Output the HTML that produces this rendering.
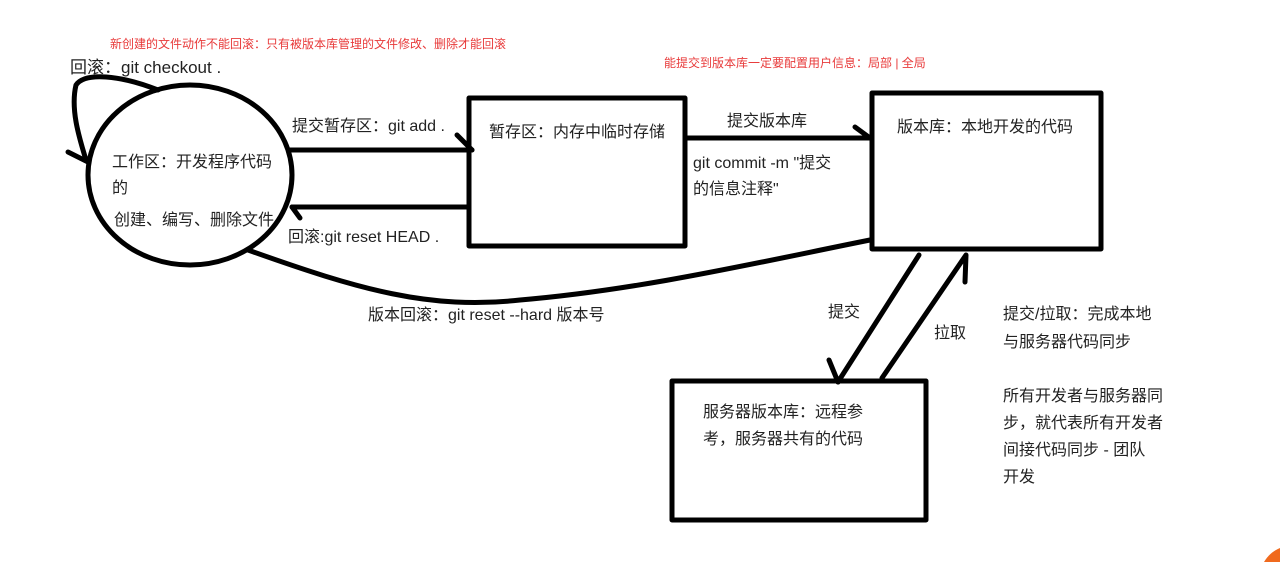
<!DOCTYPE html>
<html><head><meta charset="utf-8"><style>
body{margin:0;background:#fff;}
svg{display:block;}
text{font-family:"Liberation Sans","Noto Sans CJK SC",sans-serif;fill:#222;}
</style></head><body>
<svg width="1280" height="562" viewBox="0 0 1280 562" xmlns="http://www.w3.org/2000/svg">
<g fill="none" stroke="#000" stroke-width="5" stroke-linecap="round" stroke-linejoin="round">
<ellipse cx="190" cy="175" rx="102" ry="90"/>
<rect x="469" y="98" width="216" height="148"/>
<rect x="872" y="93" width="229" height="156"/>
<rect x="672" y="381" width="254" height="139"/>
<path d="M158 90 C 120 75, 85 72, 76 85 C 70 110, 80 140, 86 160"/>
<path d="M68 152 L 88 162"/>
<path d="M290 150 L 472 150"/>
<path d="M457 135 L 472 150"/>
<path d="M468 207 L 292 207"/>
<path d="M292 207 L 300 218"/>
<path d="M686 138 L 870 138"/>
<path d="M855 127 L 870 138"/>
<path d="M248 250 C 360 290, 430 310, 520 300 C 640 290, 760 262, 870 240"/>
<path d="M919 255 L 838 382"/>
<path d="M829 360 L 838 382"/>
<path d="M882 378 L 966 255 L 965 282"/>
</g>
<path d="M1264 562 Q 1270 552 1280 548 L 1280 562 Z" fill="#f06a1e"/>
<text x="110" y="48" font-size="12" style="fill:#e83a3a">新创建的文件动作不能回滚：只有被版本库管理的文件修改、删除才能回滚</text>
<text x="664" y="67" font-size="12" style="fill:#e83a3a">能提交到版本库一定要配置用户信息：局部 | 全局</text>
<text x="70" y="73" font-size="17">回滚：git checkout .</text>
<text x="112" y="167" font-size="16">工作区：开发程序代码</text>
<text x="112" y="193" font-size="16">的</text>
<text x="114" y="225" font-size="16">创建、编写、删除文件</text>
<text x="292" y="131" font-size="16">提交暂存区：git add .</text>
<text x="288" y="242" font-size="16">回滚:git reset HEAD .</text>
<text x="489" y="137" font-size="16">暂存区：内存中临时存储</text>
<text x="727" y="126" font-size="16">提交版本库</text>
<text x="693" y="168" font-size="16">git commit -m "提交</text>
<text x="693" y="194" font-size="16">的信息注释"</text>
<text x="897" y="132" font-size="16">版本库：本地开发的代码</text>
<text x="368" y="320" font-size="16">版本回滚：git reset --hard 版本号</text>
<text x="828" y="317" font-size="16">提交</text>
<text x="934" y="338" font-size="16">拉取</text>
<text x="1003" y="319" font-size="16">提交/拉取：完成本地</text>
<text x="1003" y="347" font-size="16">与服务器代码同步</text>
<text x="1003" y="401" font-size="16">所有开发者与服务器同</text>
<text x="1003" y="428" font-size="16">步，就代表所有开发者</text>
<text x="1003" y="455" font-size="16">间接代码同步 - 团队</text>
<text x="1003" y="482" font-size="16">开发</text>
<text x="703" y="417" font-size="16">服务器版本库：远程参</text>
<text x="703" y="444" font-size="16">考，服务器共有的代码</text>
</svg>
</body></html>
